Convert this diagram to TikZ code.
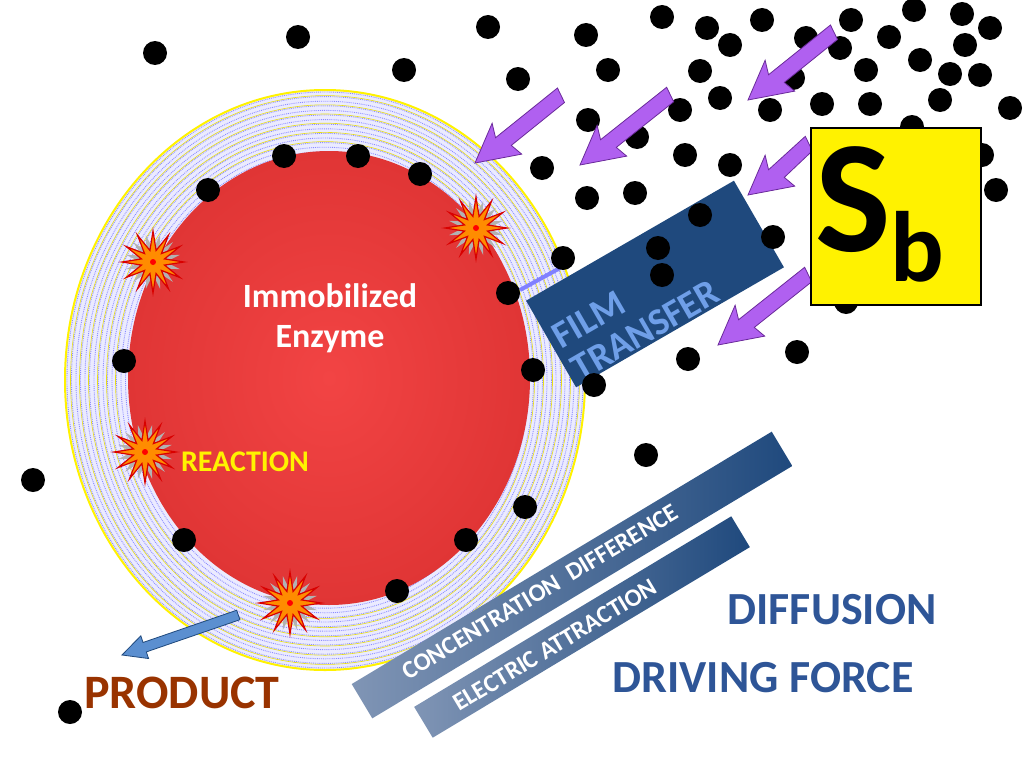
\documentclass[tikz,border=0pt]{standalone}
\usepackage{fontspec}
\setmainfont{Carlito}
\usetikzlibrary{shapes.geometric}
\definecolor{dblue}{HTML}{1F497D}
\definecolor{tblue}{HTML}{2E5597}
\definecolor{purp}{HTML}{B060F0}
\definecolor{purpd}{HTML}{6A2A9A}
\definecolor{brown}{HTML}{993300}
\definecolor{ftext}{HTML}{6F9FE8}
\definecolor{bargray}{HTML}{8095B5}
\definecolor{redin}{HTML}{F24444}
\definecolor{redout}{HTML}{E03535}
\definecolor{parrow}{HTML}{5B8FD0}
\tikzset{
 dot/.style={circle,fill=black,minimum size=24pt,inner sep=0pt},
 boltarrow/.style={fill=purp,draw=purpd,line width=0.8pt},
 burst/.style={star,star points=12,star point ratio=2.6,minimum size=62pt,inner sep=0pt,fill=orange!90!yellow,draw=red!85!black,line width=1.2pt},
 burstg/.style={star,star points=12,star point ratio=2.2,minimum size=56pt,inner sep=0pt,fill=gray!60,rotate=15},
 fs/.style={font=\fontsize{#1}{#1}\selectfont\bfseries}
}
\begin{document}
\begin{tikzpicture}[x=1pt,y=-1pt]
\useasboundingbox (0,0) rectangle (1024,768);
% ring
\fill[blue!8] (325,380) ellipse [x radius=260,y radius=290];
\foreach \k in {0,...,13}{
  \draw[blue!45,densely dotted,line width=0.9pt] (325,380) ellipse [x radius={258-\k*4.5},y radius={288-\k*4.6}];
}
\foreach \k in {1,3,5,7,9,11}{
  \draw[yellow!90!black,line width=0.6pt] (325,380) ellipse [x radius={259-\k*4.5},y radius={289-\k*4.6}];
}
\draw[yellow,line width=2pt] (325,380) ellipse [x radius=260,y radius=290];
% enzyme
\shade[inner color=redin,outer color=redout,draw=none] (329,378) ellipse [x radius=201,y radius=227];
\node[text=white,fs=34,align=center] (enz) at (330,318) {Immobilized\\[6pt]Enzyme};
% bursts
\foreach \p/\n in {{(153,262)}/b1,{(476,228)}/b2,{(145,452)}/b3,{(290,603)}/b4}{
  \node[burstg] at \p {};
  \node[burst] (\n) at \p {};
  \fill[red] \p circle (3pt);
}
\node[text=yellow,fs=30] (react) at (245,462) {REACTION};
% connector line
\draw[blue!50!white,line width=4pt] (520,290) -- (560,268);
% film box
\node[fill=dblue,rotate=30,minimum width=240pt,minimum height=100pt,inner sep=0pt] (film) at (655,284) {};
\node[rotate=30,text=ftext,fs=38,align=left] (filmt) at (636,314) {FILM\\TRANSFER};
% dots
\foreach \x/\y in {155/53,298/37,404/70,488/27,518/79,586/35,608/70,662/17,707/28,730/45,762/20,700/71,720/98,793/78,806/38,851/20,889/37,914/10,962/14,990/28,965/45,840/48,866/70,920/60,950/74,980/75,1010/108,822/104,870/104,588/120,680/110,770/110,637/137,685/155,730/165,542/168,587/198,635/193,700/215,773/237,846/302,996/190,982/155,912/127,658/248,662/275,563/258,508/293,688/359,797/352,594/385,646/455,533/370,525/507,466/540,397/591,184/540,124/361,33/480,70/712,208/190,284/156,358/156,420/174,940/100}{
  \node[dot] at (\x,\y) {};
}
% bolt arrows
\foreach \x/\y/\L in {475/163/110,580/165/115,748/100/110,748/195/80,718/345/115}{
  \fill[boltarrow,shift={(\x,\y)},rotate=33] (0,0) -- (36,-24) -- (31,-10) -- (\L,-18) -- (\L-2,-2) -- (40,5) -- (44,18) -- cycle;
}
% Sb box
\node[fill=yellow,draw=black,line width=2pt,minimum width=170pt,minimum height=177pt,inner sep=0pt] (sb) at (896,216) {};
\node[fs=160,inner sep=0pt] (sbt) at (880,214) {S\raisebox{-30pt}{\fontsize{100}{100}\selectfont\bfseries b}};
% driving bars
\shade[left color=bargray,right color=dblue,rotate around={31:(572,575)}] (327,555) rectangle (817,595);
\node[rotate=31,text=white,fs=25] (conc) at (540,592) {CONCENTRATION\ \ DIFFERENCE};
\shade[left color=bargray,right color=dblue,rotate around={31:(582,627)}] (397,609) rectangle (767,645);
\node[rotate=31,text=white,fs=25] (elec) at (555,645) {ELECTRIC ATTRACTION};
% product arrow
\draw[fill=parrow,draw=dblue,line width=0.8pt,shift={(122,655)},rotate=19] (0,0) -- (24,-12) -- (24,-5) -- (123,-5) -- (123,5) -- (24,5) -- (24,12) -- cycle;
\node[text=brown,fs=48] (prod) at (182,693) {PRODUCT};
\node[text=tblue,fs=46] (diff) at (832,610) {DIFFUSION};
\node[text=tblue,fs=46] (drive) at (763,678) {DRIVING FORCE};
\end{tikzpicture}
\end{document}
